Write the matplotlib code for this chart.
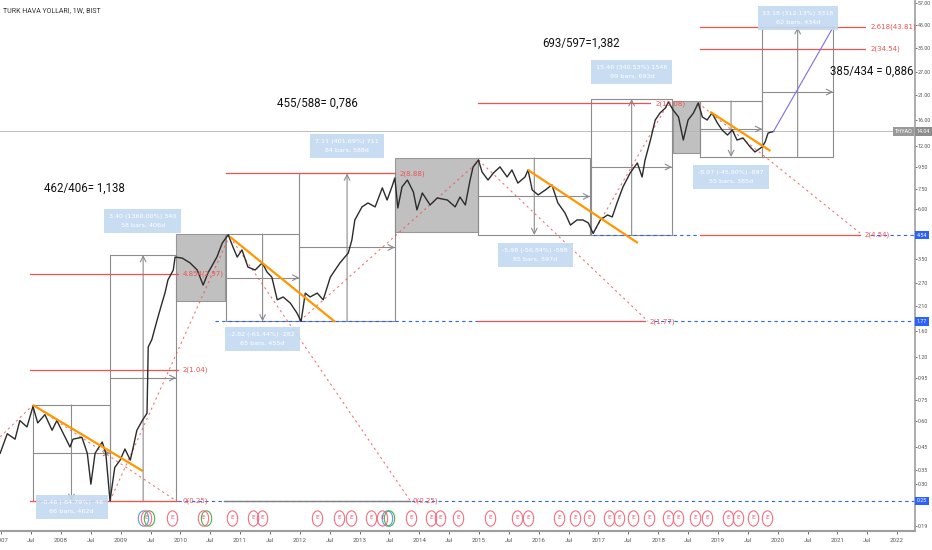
import matplotlib
matplotlib.use("Agg")
import matplotlib.pyplot as plt
import matplotlib.transforms as mtransforms
from matplotlib.patches import Rectangle
from matplotlib.path import Path
from matplotlib.ticker import FixedLocator, NullLocator
import numpy as np

# THYAO weekly close (decimal year, TRY)
dates = [2006.98, 2007.10, 2007.23, 2007.31, 2007.43, 2007.53, 2007.61, 2007.73, 2007.85, 2007.93,
         2008.07, 2008.15, 2008.20, 2008.35, 2008.44, 2008.50, 2008.57, 2008.69, 2008.75, 2008.82,
         2008.90, 2008.99, 2009.07, 2009.16, 2009.21, 2009.27, 2009.36, 2009.44, 2009.46, 2009.52,
         2009.61, 2009.69, 2009.74, 2009.79, 2009.88, 2009.91, 2010.03, 2010.16, 2010.28, 2010.38,
         2010.46, 2010.61, 2010.70, 2010.80, 2010.88, 2010.95, 2011.03, 2011.13, 2011.25, 2011.37,
         2011.45, 2011.53, 2011.62, 2011.72, 2011.84, 2011.95, 2012.02, 2012.09, 2012.17, 2012.29,
         2012.39, 2012.51, 2012.67, 2012.81, 2012.87, 2012.92, 2013.04, 2013.14, 2013.26, 2013.38,
         2013.46, 2013.54, 2013.59, 2013.64, 2013.71, 2013.80, 2013.90, 2013.96, 2014.05, 2014.18,
         2014.30, 2014.47, 2014.60, 2014.68, 2014.77, 2014.85, 2014.90, 2014.99, 2015.05, 2015.15,
         2015.24, 2015.35, 2015.47, 2015.55, 2015.65, 2015.77, 2015.82, 2015.89, 2015.99, 2016.11,
         2016.22, 2016.32, 2016.44, 2016.53, 2016.64, 2016.74, 2016.83, 2016.91, 2017.03, 2017.15,
         2017.23, 2017.31, 2017.41, 2017.53, 2017.65, 2017.73, 2017.78, 2017.87, 2017.95, 2018.03,
         2018.12, 2018.17, 2018.25, 2018.34, 2018.42, 2018.50, 2018.59, 2018.67, 2018.74, 2018.82,
         2018.90, 2018.99, 2019.07, 2019.16, 2019.24, 2019.32, 2019.42, 2019.54, 2019.62, 2019.74,
         2019.79, 2019.84, 2019.93]
prices = [0.42, 0.52, 0.49, 0.60, 0.56, 0.70, 0.585, 0.64, 0.54, 0.60,
          0.50, 0.45, 0.49, 0.50, 0.42, 0.30, 0.42, 0.475, 0.42, 0.25,
          0.36, 0.39, 0.44, 0.39, 0.45, 0.54, 0.60, 0.65, 1.34, 1.45,
          1.80, 2.16, 2.41, 2.78, 3.10, 3.57, 3.53, 3.35, 3.10, 2.63,
          3.00, 3.57, 4.16, 4.55, 3.98, 3.57, 3.86, 3.20, 3.10, 3.35,
          3.03, 2.87, 2.24, 2.31, 2.16, 1.94, 1.77, 2.41, 2.31, 2.41,
          2.24, 2.87, 3.35, 3.73, 4.30, 5.35, 6.17, 6.44, 6.17, 7.59,
          6.65, 7.67, 8.46, 6.10, 7.67, 8.27, 7.26, 5.97, 7.18, 6.30,
          6.80, 6.65, 6.17, 6.87, 6.30, 8.27, 9.54, 10.29, 9.03, 8.27,
          8.93, 9.54, 8.55, 9.23, 8.00, 8.55, 9.23, 7.42, 7.03, 7.42,
          7.84, 6.44, 5.77, 5.06, 5.35, 5.35, 5.18, 4.62, 5.35, 5.65,
          5.53, 6.44, 7.67, 8.93, 9.96, 8.55, 10.29, 12.79, 15.91, 17.18,
          18.14, 19.37, 17.74, 16.44, 12.79, 15.91, 17.18, 19.16, 16.44, 15.91,
          17.18, 15.41, 14.27, 13.51, 14.27, 12.79, 13.08, 11.86, 11.23, 11.86,
          12.52, 13.81, 14.04]
last_price = 14.04

# fib levels: start, end, price, label
fib_lines = [(2007.48, 2009.96, 0.25, "0(0.25)"),
             (2007.48, 2009.96, 1.04, "2(1.04)"),
             (2007.48, 2009.96, 2.97, "4.854(2.97)"),
             (2010.76, 2013.59, 8.88, "2(8.88)"),
             (2014.99, 2017.87, 19.08, "2(19.08)"),
             (2014.99, 2017.78, 1.77, "2(1.77)"),
             (2018.70, 2021.38, 4.54, "2(4.54)"),
             (2018.70, 2021.47, 34.54, "2(34.54)"),
             (2018.70, 2021.47, 43.81, "2.618(43.81)")]
base_line = (2010.73, 2013.85, 0.25, "0(0.25)")
blue_lines = [(2009.96, 2022.35, 0.25), (2010.58, 2014.99, 1.77), (2017.93, 2022.35, 1.77),
              (2016.91, 2018.70, 4.54), (2021.55, 2022.35, 4.54)]

# date/price range boxes: start, end, low, high, direction
ranges = [(2007.53, 2008.82, 0.25, 0.711, "down"),
          (2008.82, 2009.93, 0.25, 3.65, "up"),
          (2010.76, 2011.99, 1.77, 4.59, "down"),
          (2011.99, 2013.59, 1.77, 8.88, "up"),
          (2014.99, 2016.86, 4.54, 10.52, "down"),
          (2016.88, 2018.23, 4.54, 20.0, "up"),
          (2018.70, 2019.74, 10.63, 19.58, "down"),
          (2019.74, 2020.93, 10.63, 43.81, "up")]
shaded = [(2009.93, 2010.75, 2.21, 4.59),
          (2013.59, 2014.99, 4.69, 10.52),
          (2018.25, 2018.70, 11.1, 19.58)]

trend_lines = [(2007.53, 0.711, 2009.37, 0.346),
               (2010.83, 4.45, 2012.59, 1.76),
               (2015.82, 9.23, 2017.66, 4.16),
               (2018.87, 17.4, 2019.88, 11.35)]
dotted = [(2006.98, 0.502, 2007.53, 0.711),
          (2007.53, 0.711, 2009.93, 0.25),
          (2008.82, 0.25, 2010.83, 4.55),
          (2010.83, 4.45, 2013.85, 0.25),
          (2012.00, 1.78, 2015.02, 10.29),
          (2014.99, 10.29, 2017.83, 1.77),
          (2016.91, 4.62, 2018.18, 19.37),
          (2018.67, 19.16, 2021.42, 4.54)]
projection = (2019.93, 14.04, 2020.93, 43.81)

info_boxes = [(2008.18, 0.234, "-0.46 (-64.79%) -46", "66 bars, 462d"),
              (2009.37, 5.29, "3.40 (1360.00%) 340", "58 bars, 406d"),
              (2011.37, 1.46, "-2.82 (-61.44%) -282", "65 bars, 455d"),
              (2012.79, 12.0, "7.11 (401.69%) 711", "84 bars, 588d"),
              (2015.94, 3.65, "-5.98 (-56.84%) -598", "85 bars, 597d"),
              (2017.56, 26.9, "15.46 (340.53%) 1546", "99 bars, 693d"),
              (2019.22, 8.55, "-8.97 (-45.80%) -897", "55 bars, 385d"),
              (2020.34, 48.4, "33.18 (312.13%) 3318", "62 bars, 434d")]
# centred notes
notes = [(2008.39, 7.59, "462/406= 1,138"),
         (2012.29, 19.16, "455/588= 0,786"),
         (2016.71, 36.9, "693/597=1,382"),
         (2021.58, 27.2, "385/434 = 0,886")]

earnings = [2009.42, 2009.86, 2010.38, 2010.86, 2011.22, 2011.37, 2012.29, 2012.66, 2012.86,
            2013.19, 2013.38, 2013.86, 2014.20, 2014.35, 2014.65, 2015.19, 2015.64, 2015.82,
            2016.34, 2016.61, 2016.84, 2017.18, 2017.35, 2017.58, 2017.85, 2018.17, 2018.33,
            2018.62, 2018.82, 2019.17, 2019.34, 2019.59, 2019.83]
other_events = [(2009.37, "#5b9bd5"), (2009.47, "#4caf50"), (2010.42, "#4caf50"),
                (2013.46, "#5b9bd5"), (2013.50, "#4caf50")]

y_ticks = [0.19, 0.30, 0.35, 0.45, 0.60, 0.75, 0.95, 1.20, 1.60, 2.10, 2.70, 3.50,
           6.00, 7.50, 9.50, 12.00, 16.00, 21.00, 27.00, 35.00, 45.00, 57.00]
x_ticks = [2007 + 0.5 * i for i in range(31)]
x_labels = [str(2007 + i // 2) if i % 2 == 0 else "Jul" for i in range(31)]
blue_tags = [4.54, 1.77, 0.25]

GRAY = "#8c8c8c"
RED = "#ef5350"
ORANGE = "#ff9800"
BLUE = "#2962ff"
NARROW = ["Roboto", "DejaVu Sans"]

fig = plt.figure(figsize=(9.32, 5.5), dpi=100)
ax = fig.add_axes([0, 19 / 550, 915 / 932, 531 / 550])
ax.set_yscale("log")
ax.set_xlim(2006.978, 2022.30)
ax.set_ylim(0.180, 58.9)
yax_tr = mtransforms.blended_transform_factory(ax.transAxes, ax.transData)
xax_tr = mtransforms.blended_transform_factory(ax.transData, ax.transAxes)

# last price line
ax.axhline(last_price, color="#bdbdbd", lw=0.7, zorder=1)

for x0, x1, p0, p1 in shaded:
    ax.add_patch(Rectangle((x0, p0), x1 - x0, p1 - p0, fc="#b5b5b5", ec=GRAY, lw=0.8, alpha=0.85, zorder=1))

for x0, x1, lo, hi, d in ranges:
    xm = (x0 + x1) / 2
    pm = np.sqrt(lo * hi)
    ax.plot([x0, x1, x1, x0, x0], [lo, lo, hi, hi, lo], color=GRAY, lw=0.8, zorder=2)
    ax.plot([x0, x1], [pm, pm], color=GRAY, lw=0.8, zorder=2)
    a, b = (lo, hi) if d == "up" else (hi, lo)
    ax.annotate("", xy=(xm, b), xytext=(xm, a),
                arrowprops=dict(arrowstyle="->", color=GRAY, lw=0.8, shrinkA=0, shrinkB=0), zorder=2)
    ax.annotate("", xy=(x1, pm), xytext=(x1 - 0.05, pm),
                arrowprops=dict(arrowstyle="->", color=GRAY, lw=0.8, shrinkA=0, shrinkB=0), zorder=2)

for x0, x1, p in blue_lines:
    ax.plot([x0, x1], [p, p], color=BLUE, lw=0.8, ls=(0, (3, 3)), zorder=2)

ax.plot(base_line[:2], [base_line[2]] * 2, color="#7f7f7f", lw=1.0, zorder=3)
ax.text(base_line[1] + 0.03, base_line[2], base_line[3], color=RED, fontsize=5, va="center", zorder=5)
for x0, x1, p, lab in fib_lines:
    ax.plot([x0, x1], [p, p], color=RED, lw=0.9, zorder=3)
    ax.text(x1 + 0.08, p, lab, color=RED, fontsize=5, va="center", zorder=5)

for x0, p0, x1, p1 in dotted:
    ax.plot([x0, x1], [p0, p1], color=RED, lw=0.8, ls=(0, (2, 3)), alpha=0.8, zorder=3)

ax.plot(dates, prices, color="#2b2b2b", lw=1.0, zorder=4)

for x0, p0, x1, p1 in trend_lines:
    ax.plot([x0, x1], [p0, p1], color=ORANGE, lw=1.6, zorder=5, solid_capstyle="butt")

ax.plot(projection[::2], projection[1::2], color="#7b6fe0", lw=0.8, zorder=5)

for x, p, l1, l2 in info_boxes:
    ax.text(x, p, l1 + "\n" + l2, ha="center", va="center", fontsize=4.6, color="white",
            linespacing=2.1, zorder=6,
            bbox=dict(boxstyle="square,pad=0.75", fc="#c3daf1", ec="none", alpha=0.9))

for x, p, t in notes:
    ax.text(x, p, t, fontsize=8.3, color="#111111", va="center", ha="center", zorder=6,
            family=NARROW)

# event markers
circ = Path.unit_circle()
oval = Path(circ.vertices * [0.68, 1.0], circ.codes)
for x, c in other_events:
    ax.plot([x], [0.0245], marker=oval, ms=11, mfc="none", mec=c, mew=0.8, ls="none",
            transform=xax_tr, clip_on=False, zorder=6)
ax.plot(earnings, [0.0245] * len(earnings), marker=oval, ms=11, mfc="none", mec="#ef6f80",
        mew=0.8, ls="none", transform=xax_tr, clip_on=False, zorder=7)
for x in earnings:
    ax.text(x, 0.0245, "E", fontsize=4.2, color="#e5546b", ha="center", va="center",
            transform=xax_tr, zorder=7)

# axes look
for s in ["left", "top"]:
    ax.spines[s].set_visible(False)
ax.spines["right"].set_color("#9e9e9e")
ax.spines["bottom"].set_color("#9e9e9e")
ax.spines["bottom"].set_linewidth(1.5)
ax.spines["right"].set_linewidth(1.2)
ax.yaxis.tick_right()
ax.yaxis.set_major_locator(FixedLocator(y_ticks))
ax.yaxis.set_minor_locator(NullLocator())
ax.set_yticklabels(["%.2f" % v for v in y_ticks], family=NARROW)
ax.set_xticks(x_ticks)
ax.set_xticklabels(x_labels, family=NARROW)
ax.xaxis.set_minor_locator(NullLocator())
ax.tick_params(axis="y", labelsize=3.9, colors="#555555", length=1.5, width=0.6, pad=0.5)
ax.tick_params(axis="x", labelsize=4.4, colors="#555555", length=2, width=0.6, pad=3)

for p in blue_tags:
    ax.text(1.002, p, "%.2f" % p, transform=yax_tr, fontsize=3.9, color="white", ha="left", va="center",
            zorder=8, clip_on=False, family=NARROW,
            bbox=dict(boxstyle="square,pad=0.3", fc=BLUE, ec="none"))
ax.text(1.002, last_price, "%.2f" % last_price, transform=yax_tr, fontsize=3.9, color="white",
        ha="left", va="center", zorder=8, clip_on=False, family=NARROW,
        bbox=dict(boxstyle="square,pad=0.3", fc="#8d8d8d", ec="none"))
ax.text(0.997, last_price, "THYAO", transform=yax_tr, fontsize=4, color="white",
        ha="right", va="center", zorder=8, family=NARROW,
        bbox=dict(boxstyle="square,pad=0.3", fc="#9a9a9a", ec="none"))

fig.text(3 / 932, 1 - 11 / 550, "TURK HAVA YOLLARI, 1W, BIST", fontsize=5, color="#333333", va="center",
         family=NARROW)

fig.savefig("out.png", dpi=100)
